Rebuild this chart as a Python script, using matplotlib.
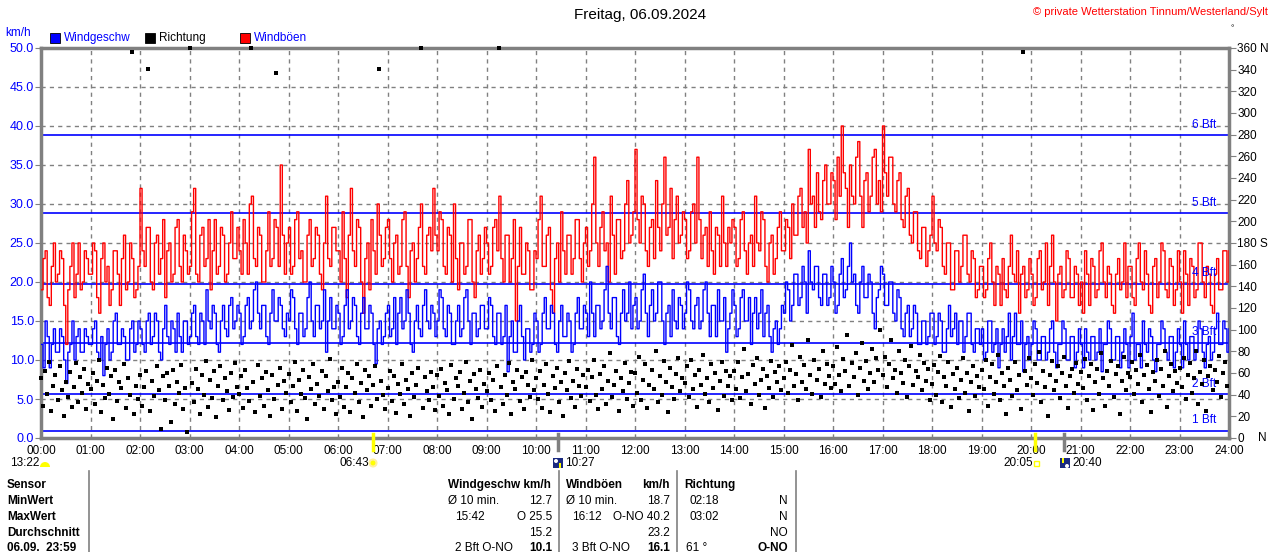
import numpy as np
import matplotlib
matplotlib.use("Agg")
import matplotlib.pyplot as plt
from matplotlib.patches import Rectangle, Wedge, Circle
from matplotlib.lines import Line2D

plt.rcParams['font.family'] = ['Liberation Sans', 'DejaVu Sans']

W, H = 1280, 552

# 2.5-minute values, 00:00 .. 24:00 (km/h), one row per hour
gust_kmh = [
    19, 23, 24, 18, 17, 22, 25, 20, 21, 24, 23, 17, 12, 19, 22, 25, 18, 21, 25, 19, 20, 24, 23, 21,
    21, 25, 24, 18, 16, 23, 25, 20, 22, 17, 19, 24, 24, 21, 17, 23, 26, 19, 20, 25, 23, 18, 19, 22,
    32, 24, 22, 27, 27, 20, 19, 25, 26, 21, 23, 28, 18, 24, 25, 20, 21, 27, 28, 22, 20, 26, 24, 21,
    22, 29, 32, 21, 20, 26, 27, 22, 23, 28, 19, 24, 28, 21, 22, 27, 26, 20, 21, 25, 29, 23, 23, 27,
    24, 21, 28, 25, 21, 30, 31, 23, 22, 27, 26, 20, 20, 24, 29, 22, 23, 28, 27, 22, 35, 26, 21, 25,
    27, 21, 22, 28, 29, 23, 24, 20, 20, 26, 28, 22, 23, 27, 26, 21, 19, 25, 31, 23, 22, 27, 27, 24,
    24, 20, 29, 23, 18, 26, 32, 24, 22, 28, 27, 20, 16, 23, 25, 19, 28, 24, 21, 30, 26, 22, 23, 27,
    28, 23, 20, 25, 26, 21, 22, 28, 29, 22, 18, 24, 25, 20, 23, 27, 30, 22, 21, 26, 27, 24, 32, 26,
    24, 29, 28, 22, 21, 27, 26, 20, 30, 23, 19, 25, 25, 21, 22, 28, 28, 20, 18, 24, 26, 21, 23, 27,
    25, 21, 22, 27, 28, 24, 31, 23, 20, 26, 26, 20, 23, 28, 15, 22, 27, 21, 21, 25, 24, 19, 19, 24,
    23, 28, 31, 22, 22, 26, 27, 19, 16, 23, 25, 20, 29, 24, 21, 26, 26, 21, 23, 28, 28, 23, 20, 25,
    27, 22, 24, 30, 36, 25, 22, 27, 29, 24, 25, 20, 31, 26, 21, 28, 28, 23, 24, 30, 33, 25, 26, 29,
    37, 28, 25, 31, 30, 24, 22, 27, 28, 23, 33, 27, 24, 30, 36, 26, 27, 32, 23, 28, 31, 25, 26, 29,
    28, 23, 24, 29, 30, 25, 36, 28, 23, 26, 27, 22, 29, 24, 21, 27, 26, 22, 31, 25, 22, 27, 25, 28,
    27, 22, 23, 28, 29, 24, 21, 25, 26, 22, 31, 25, 24, 29, 28, 22, 20, 25, 26, 21, 23, 27, 29, 24,
    24, 28, 27, 23, 30, 26, 26, 31, 32, 27, 29, 25, 37, 30, 31, 27, 34, 29, 28, 33, 35, 30, 30, 34,
    33, 28, 36, 31, 40, 34, 32, 27, 35, 31, 30, 36, 38, 31, 27, 33, 34, 29, 31, 36, 37, 30, 33, 29,
    40, 34, 31, 36, 36, 30, 29, 33, 34, 28, 27, 31, 32, 26, 25, 29, 29, 24, 23, 27, 27, 22, 24, 26,
    31, 25, 24, 28, 27, 22, 21, 25, 25, 19, 19, 24, 24, 20, 22, 26, 26, 21, 20, 24, 23, 18, 19, 22,
    22, 18, 19, 23, 25, 20, 17, 22, 21, 17, 23, 19, 18, 22, 26, 21, 20, 24, 16, 21, 22, 18, 19, 23,
    21, 17, 18, 23, 24, 19, 20, 25, 17, 22, 26, 20, 15, 21, 22, 18, 19, 24, 23, 18, 18, 22, 21, 17,
    20, 16, 24, 21, 17, 23, 22, 18, 19, 24, 25, 20, 18, 22, 21, 17, 16, 21, 23, 19, 20, 25, 18, 22,
    22, 18, 17, 23, 25, 20, 19, 24, 21, 17, 16, 22, 23, 18, 20, 25, 24, 19, 18, 23, 22, 17, 19, 24,
    20, 16, 24, 21, 17, 23, 22, 18, 19, 25, 25, 20, 18, 22, 21, 17, 16, 21, 23, 19, 19, 24, 24, 20,
    24,
]

speed_kmh = [
    12, 9, 15, 13, 9, 12, 14, 11, 11, 14, 13, 10, 7, 11, 12, 15, 10, 13, 14, 11, 11, 14, 13, 12,
    12, 14, 15, 11, 10, 13, 8, 12, 14, 10, 11, 15, 16, 12, 12, 14, 13, 10, 10, 14, 15, 11, 12, 15,
    14, 12, 11, 15, 16, 12, 13, 16, 15, 11, 10, 14, 17, 13, 12, 15, 14, 11, 16, 13, 11, 15, 15, 12,
    13, 16, 17, 13, 12, 16, 15, 12, 19, 15, 14, 17, 16, 12, 11, 15, 17, 14, 13, 17, 18, 14, 15, 17,
    16, 12, 13, 17, 18, 14, 15, 19, 20, 16, 14, 17, 17, 13, 12, 16, 19, 15, 15, 18, 17, 14, 13, 16,
    15, 19, 18, 14, 12, 16, 16, 13, 14, 18, 20, 15, 13, 17, 17, 14, 15, 19, 11, 15, 18, 14, 14, 17,
    16, 12, 13, 17, 19, 14, 15, 18, 17, 13, 12, 16, 18, 14, 14, 17, 16, 12, 9.5, 14, 15, 12, 13, 16,
    17, 13, 14, 18, 12, 16, 18, 14, 15, 19, 16, 12, 11, 15, 17, 14, 13, 17, 19, 15, 14, 17, 16, 13,
    15, 19, 18, 14, 13, 17, 16, 12, 12, 15, 17, 13, 14, 18, 19, 15, 12, 16, 16, 13, 14, 17, 17, 14,
    14, 18, 17, 13, 12, 16, 16, 12, 13, 17, 8.5, 13, 15, 11, 11, 15, 17, 13, 10, 14, 14, 11, 12, 16,
    15, 11, 12, 16, 18, 14, 14, 17, 16, 12, 11, 15, 17, 13, 13, 16, 15, 11, 12, 16, 18, 14, 14, 17,
    16, 13, 20, 16, 13, 17, 17, 14, 15, 19, 22, 16, 14, 18, 18, 13, 12, 16, 19, 15, 16, 20, 14, 17,
    18, 14, 15, 19, 21, 16, 13, 17, 19, 15, 16, 20, 20, 15, 12, 16, 17, 13, 19, 15, 14, 18, 17, 14,
    16, 20, 19, 15, 14, 17, 18, 14, 15, 19, 20, 16, 13, 17, 17, 13, 19, 15, 15, 18, 11, 14, 16, 19,
    17, 13, 14, 18, 19, 15, 15, 18, 12, 16, 18, 14, 16, 19, 13, 16, 17, 13, 11, 14, 15, 12, 14, 17,
    16, 20, 19, 15, 17, 21, 21, 17, 18, 22, 20, 16, 24, 20, 19, 22, 22, 18, 17, 21, 21, 17, 18, 22,
    20, 16, 17, 21, 23, 18, 19, 22, 25, 20, 21, 17, 16, 20, 22, 18, 18, 21, 20, 16, 14, 18, 19, 22,
    21, 17, 17, 20, 20, 16, 15, 19, 18, 14, 13, 16, 17, 13, 14, 17, 16, 12, 12, 15, 15, 12, 13, 16,
    16, 12, 13, 16, 15, 11, 11, 14, 17, 13, 14, 16, 12, 15, 15, 11, 13, 16, 16, 12, 11, 14, 14, 12,
    14, 10, 11, 15, 15, 11, 12, 14, 9, 12, 14, 11, 13, 16, 10, 13, 16, 12, 12, 15, 8.5, 12, 13, 10,
    12, 15, 14, 10, 10, 13, 13, 10, 11, 14, 15, 11, 9, 12, 12, 15, 14, 10, 10, 13, 13, 9, 11, 14,
    12, 9, 14, 11, 10, 13, 13, 10, 11, 14, 8.5, 12, 12, 15, 14, 10, 10, 13, 13, 9, 11, 14, 12, 9,
    13, 16, 10, 12, 12, 9, 15, 12, 11, 14, 13, 10, 8.5, 12, 12, 15, 14, 11, 10, 13, 13, 9, 11, 14,
    12, 9, 15, 12, 10, 13, 13, 10, 11, 15, 14, 11, 9, 12, 13, 10, 11, 14, 16, 12, 12, 15, 14, 11,
    14,
]

# 2.5-minute direction readings (degrees)
direction_deg = [
    55, 30, 62, 41, 70, 25, 48, 58, 35, 66, 44, 20, 52, 38, 61, 29, 47, 69, 33, 56, 42, 64, 27, 50,
    45, 60, 31, 53, 72, 24, 49, 37, 65, 41, 57, 18, 63, 34, 52, 46, 68, 28, 55, 40, 356, 22, 48, 36,
    58, 30, 47, 62, 341, 25, 53, 39, 66, 44, 8, 57, 35, 60, 48, 15, 63, 31, 52, 42, 67, 27, 46, 6,
    360, 51, 33, 64, 45, 22, 58, 40, 71, 29, 54, 37, 62, 19, 48, 66, 35, 55, 43, 26, 60, 38, 69, 47,
    41, 57, 28, 63, 46, 34, 360, 52, 24, 67, 39, 55, 30, 61, 44, 20, 58, 36, 337, 49, 65, 27, 53, 42,
    59, 33, 48, 70, 25, 54, 41, 63, 37, 18, 56, 45, 68, 31, 50, 39, 62, 27, 57, 43, 73, 35, 47, 22,
    52, 38, 65, 29, 47, 60, 24, 55, 42, 68, 33, 51, 19, 63, 44, 57, 30, 49, 66, 36, 341, 53, 40, 27,
    46, 62, 34, 57, 23, 50, 41, 68, 31, 54, 45, 20, 60, 38, 49, 65, 360, 28, 56, 43, 35, 61, 47, 26,
    58, 39, 64, 30, 51, 44, 22, 67, 36, 55, 48, 61, 27, 42, 70, 33, 53, 18, 59, 45, 37, 63, 29, 50,
    43, 60, 35, 54, 25, 66, 360, 47, 31, 58, 40, 69, 22, 52, 45, 63, 34, 56, 27, 61, 49, 38, 72, 44,
    55, 36, 62, 28, 49, 68, 41, 24, 57, 46, 65, 33, 52, 20, 60, 44, 71, 37, 53, 29, 64, 48, 39, 58,
    47, 63, 34, 56, 72, 40, 27, 59, 45, 66, 31, 53, 78, 38, 49, 62, 25, 55, 43, 69, 36, 51, 61, 30,
    60, 42, 75, 35, 54, 68, 28, 49, 63, 45, 80, 33, 57, 40, 71, 52, 24, 65, 47, 36, 59, 74, 43, 55,
    51, 66, 38, 72, 45, 58, 29, 63, 49, 77, 41, 55, 33, 68, 46, 60, 26, 53, 70, 39, 62, 48, 57, 35,
    62, 45, 70, 37, 56, 82, 43, 59, 31, 67, 50, 74, 40, 54, 64, 28, 57, 46, 71, 38, 61, 52, 66, 44,
    55, 70, 42, 63, 86, 48, 59, 35, 75, 52, 67, 45, 90, 58, 41, 72, 54, 64, 38, 80, 50, 68, 57, 46,
    66, 50, 84, 58, 43, 73, 62, 95, 48, 69, 56, 78, 40, 65, 88, 53, 71, 45, 60, 82, 52, 74, 63, 100,
    58, 75, 47, 68, 90, 55, 63, 42, 80, 60, 51, 72, 38, 66, 85, 49, 62, 56, 77, 44, 69, 53, 64, 35,
    50, 67, 40, 61, 76, 33, 56, 48, 70, 29, 59, 45, 65, 37, 54, 74, 42, 60, 25, 52, 66, 39, 57, 47,
    63, 45, 72, 30, 56, 68, 41, 52, 77, 35, 60, 48, 22, 65, 54, 39, 70, 44, 58, 27, 356, 62, 49, 74,
    55, 40, 68, 51, 79, 33, 62, 47, 20, 58, 71, 44, 53, 66, 37, 60, 75, 48, 28, 57, 64, 42, 69, 50,
    61, 46, 73, 35, 57, 68, 26, 52, 64, 41, 78, 55, 30, 62, 48, 71, 38, 59, 66, 22, 53, 75, 44, 60,
    56, 70, 41, 63, 50, 77, 33, 58, 67, 45, 24, 61, 53, 72, 39, 64, 48, 80, 29, 57, 68, 43, 62, 51,
    65, 47, 74, 36, 58, 69, 42, 55, 80, 31, 61, 50, 72, 25, 57, 66, 44, 63, 52, 76, 38, 60, 70, 48,
]

bft_limits = [0.9, 5.6, 12.2, 19.8, 28.8, 38.8]
bft_labels = ["1 Bft", "2 Bft", "3 Bft", "4 Bft", "5 Bft", "6 Bft"]
hour_labels = [f"{h:02d}:00" for h in range(25)]
dir_ticks = list(range(0, 361, 20))
dir_tick_labels = [str(d) for d in dir_ticks]
dir_tick_labels[-1] = "360 N"
dir_tick_labels[9] = "180 S"

# sun / moon times (hours)
sunrise = 6 + 43 / 60
sunset = 20 + 5 / 60
moonrise = 10 + 27 / 60
moonset = 20 + 40 / 60

# summary table
row_names = ["Sensor", "MinWert", "MaxWert", "Durchschnitt", "06.09.  23:59"]
speed_col = [("Ø 10 min.", "12.7"), ("15:42", "O 25.5"), ("", "15.2"), ("2 Bft O-NO", "10.1")]
gust_col = [("Ø 10 min.", "18.7"), ("16:12", "O-NO 40.2"), ("", "23.2"), ("3 Bft O-NO", "16.1")]
dir_col = [("02:18", "N"), ("03:02", "N"), ("", "NO"), ("61 °", "O-NO")]

BLUE = "#0000ff"
RED = "#ff0000"
GRAY = "#808080"
YELLOW = "#ffff00"
NAVY = "#1a2a80"


def fx(x):
    return x / W


def fy(y):
    return 1 - y / H


def pin(x, y):
    # pixel position -> inches from lower left, for round icons
    return (x / 100, (H - y) / 100)


fig = plt.figure(figsize=(W / 100, H / 100), dpi=100)
fig.patch.set_facecolor("white")
inch = fig.dpi_scale_trans

ax = fig.add_axes([fx(41), fy(438), (1229 - 41) / W, (438 - 48) / H])
ax.set_xlim(0, 24)
ax.set_ylim(0, 50)

for v in np.arange(5, 50, 5):
    ax.axhline(v, color=GRAY, lw=1, ls=(0, (3, 3)), zorder=1)
for h in range(1, 24):
    ax.axvline(h, color=GRAY, lw=1, ls=(0, (3, 3)), zorder=1)
for lim, lab in zip(bft_limits, bft_labels):
    ax.axhline(lim, color=BLUE, lw=1.2, zorder=2)
    ax.text(23.75, lim + 0.6, lab, color=BLUE, fontsize=8.5, ha="right", va="bottom", zorder=6)

t_g = np.arange(len(gust_kmh)) * 2.5 / 60
t_s = np.arange(len(speed_kmh)) * 2.5 / 60
ax.step(t_g, gust_kmh, where="post", color=RED, lw=1, zorder=3)
ax.step(t_s, speed_kmh, where="post", color=BLUE, lw=1, zorder=4)

ax.set_xticks(range(25))
ax.set_xticklabels(hour_labels, fontsize=8.5)
ax.set_yticks(np.arange(0, 51, 5))
ax.set_yticklabels([f"{v:.1f}" for v in np.arange(0, 51, 5)], fontsize=9, color=BLUE)
ax.tick_params(axis="x", length=0, pad=5)
ax.tick_params(axis="y", length=4, color=GRAY, pad=1)
for sp in ax.spines.values():
    sp.set_color(GRAY)
    sp.set_linewidth(2.5)

ax2 = ax.twinx()
ax2.set_ylim(0, 360)
ax2.set_yticks(dir_ticks)
ax2.set_yticklabels(dir_tick_labels, fontsize=8.5)
ax2.tick_params(axis="y", length=5, color=GRAY, pad=1)
for sp in ax2.spines.values():
    sp.set_visible(False)
td = np.arange(len(direction_deg)) * 2.5 / 60
ax2.scatter(td, direction_deg, marker="s", s=6, color="black", linewidths=0, zorder=5, clip_on=False)
fig.text(fx(1258), fy(438), "N", fontsize=8.5, ha="left", va="center")

# sun / moon ticks on the time axis
for tt, col in [(sunrise, YELLOW), (moonrise, GRAY), (sunset, YELLOW), (moonset, GRAY)]:
    ax.plot([tt, tt], [-0.03, 0.01], transform=ax.get_xaxis_transform(), color=col, lw=2.5,
            clip_on=False, zorder=7)

# header
fig.text(0.5, fy(15), "Freitag, 06.09.2024", fontsize=11, ha="center", va="center")
fig.text(fx(1268), fy(12), "© private Wetterstation Tinnum/Westerland/Sylt", fontsize=8,
         color=RED, ha="right", va="center")
fig.text(fx(1232), fy(29), "°", fontsize=6, ha="center", va="center")
fig.text(fx(5), fy(33), "km/h", fontsize=8.5, color=BLUE, ha="left", va="center")
for x0, col, lab, tcol in [(50, BLUE, "Windgeschw", BLUE), (145, "black", "Richtung", "black"),
                           (240, RED, "Windböen", BLUE)]:
    fig.patches.append(Rectangle((fx(x0), fy(43)), 10 / W, 10 / H, transform=fig.transFigure,
                                 facecolor=col, edgecolor="black", lw=0.6))
    fig.text(fx(x0 + 14), fy(38), lab, fontsize=8.5, color=tcol, ha="left", va="center")

# sun / moon captions
fig.text(fx(10), fy(463), "13:22", fontsize=8.5, ha="left", va="center")
fig.patches.append(Wedge(pin(45, 467), 0.05, 0, 180, transform=inch,
                         facecolor=YELLOW, edgecolor="none"))
fig.text(fx(339), fy(463), "06:43", fontsize=8.5, ha="left", va="center")
fig.patches.append(Circle(pin(373, 463), 0.035, transform=inch,
                          facecolor=YELLOW, edgecolor="#fff0a0", lw=1.5))
fig.patches.append(Rectangle((fx(553), fy(468)), 10 / W, 10 / H, transform=fig.transFigure,
                             facecolor=NAVY, edgecolor="none"))
fig.patches.append(Circle(pin(556, 461), 0.02, transform=inch, facecolor="white", edgecolor="none"))
fig.patches.append(Rectangle((fx(559), fy(468)), 2 / W, 5 / H, transform=fig.transFigure,
                             facecolor=YELLOW, edgecolor="none"))
fig.text(fx(565), fy(463), "10:27", fontsize=8.5, ha="left", va="center")
fig.text(fx(1003), fy(463), "20:05", fontsize=8.5, ha="left", va="center")
fig.patches.append(Rectangle((fx(1034), fy(466)), 5 / W, 5 / H, transform=fig.transFigure,
                             facecolor="white", edgecolor=YELLOW, lw=1))
fig.patches.append(Rectangle((fx(1060), fy(468)), 10 / W, 10 / H, transform=fig.transFigure,
                             facecolor=NAVY, edgecolor="none"))
fig.patches.append(Rectangle((fx(1062), fy(463)), 2 / W, 5 / H, transform=fig.transFigure,
                             facecolor=YELLOW, edgecolor="none"))
fig.patches.append(Circle(pin(1067, 466), 0.02, transform=inch, facecolor="white", edgecolor="none"))
fig.text(fx(1072), fy(463), "20:40", fontsize=8.5, ha="left", va="center")

# summary table
row_y = [485, 501, 517, 533, 548]
for name, yy in zip(row_names, row_y):
    fig.text(fx(7), fy(yy), name, fontsize=8.5, fontweight="bold", ha="left", va="center")
for xs in [89, 559, 677, 796]:
    fig.add_artist(Line2D([fx(xs), fx(xs)], [fy(471), fy(552)], color=GRAY, lw=1.2))

fig.text(fx(448), fy(485), "Windgeschw km/h", fontsize=8.5, fontweight="bold", ha="left", va="center")
fig.text(fx(566), fy(485), "Windböen", fontsize=8.5, fontweight="bold", ha="left", va="center")
fig.text(fx(670), fy(485), "km/h", fontsize=8.5, fontweight="bold", ha="right", va="center")
fig.text(fx(684), fy(485), "Richtung", fontsize=8.5, fontweight="bold", ha="left", va="center")

for i, yy in enumerate(row_y[1:]):
    last = i == 3
    fw = "bold" if last else "normal"
    lx = 448 if i == 0 else 455
    fig.text(fx(lx), fy(yy), speed_col[i][0], fontsize=8.5, ha="left", va="center")
    fig.text(fx(552), fy(yy), speed_col[i][1], fontsize=8.5, ha="right", va="center", fontweight=fw)
    gx = 566 if i == 0 else 572
    fig.text(fx(gx), fy(yy), gust_col[i][0], fontsize=8.5, ha="left", va="center")
    fig.text(fx(670), fy(yy), gust_col[i][1], fontsize=8.5, ha="right", va="center", fontweight=fw)
    dx = 686 if last else 690
    fig.text(fx(dx), fy(yy), dir_col[i][0], fontsize=8.5, ha="left", va="center")
    fig.text(fx(788), fy(yy), dir_col[i][1], fontsize=8.5, ha="right", va="center", fontweight=fw)

fig.savefig("out.png", dpi=100)
